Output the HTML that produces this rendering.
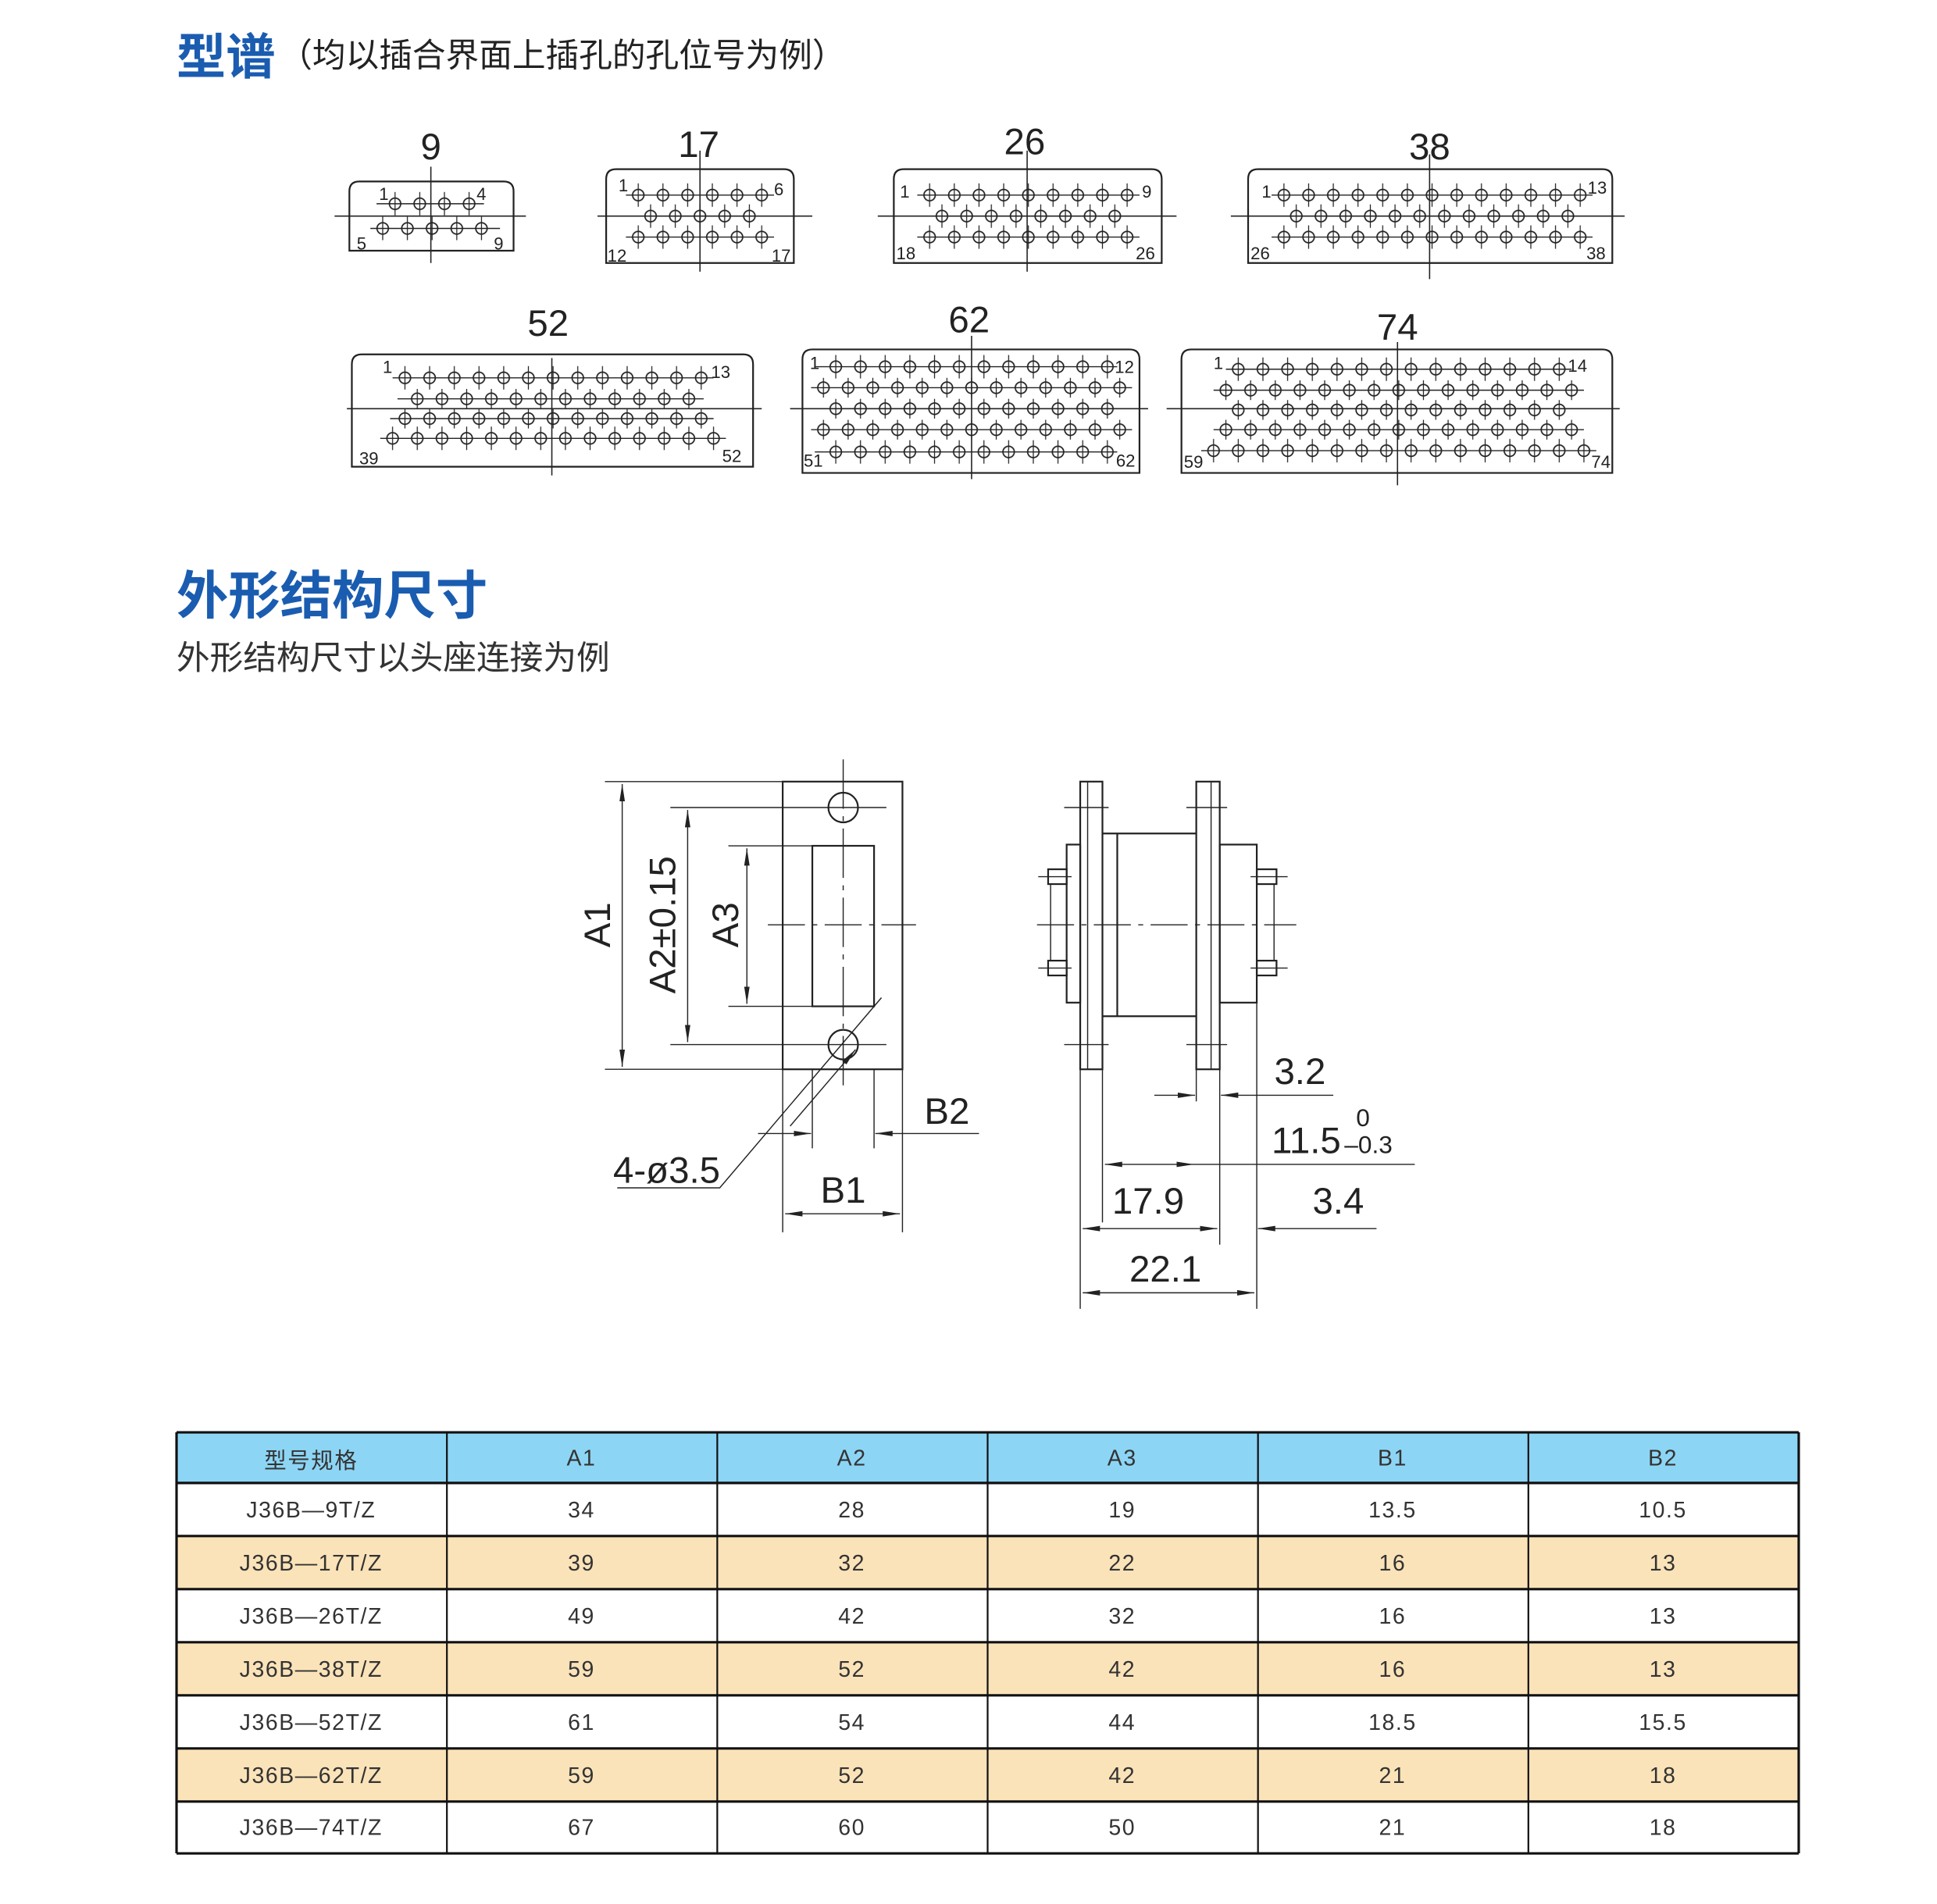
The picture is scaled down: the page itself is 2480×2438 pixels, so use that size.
<!DOCTYPE html>
<html><head><meta charset="utf-8"><style>
html,body{margin:0;padding:0;background:#fff;}
svg{display:block;}
text{font-family:"Liberation Sans","Noto Sans CJK SC",sans-serif;}
</style></head><body>
<svg width="2480" height="2438" viewBox="0 0 1569 1542" preserveAspectRatio="none" xmlns="http://www.w3.org/2000/svg">
<defs>
<pattern id="pin" patternUnits="userSpaceOnUse" x="-10" y="-10" width="20" height="20">
<circle cx="10" cy="10" r="4.6" fill="none" stroke="#222" stroke-width="1.1"/>
<line x1="10" y1="0.5" x2="10" y2="19.5" stroke="#222" stroke-width="0.8"/>
</pattern>
<marker id="ar" markerWidth="14" markerHeight="6" refX="14" refY="3" orient="auto" markerUnits="userSpaceOnUse"><path d="M0,0.8 L14,3 L0,5.2 Z" fill="#222"/></marker>
<marker id="al" markerWidth="14" markerHeight="6" refX="0" refY="3" orient="auto" markerUnits="userSpaceOnUse"><path d="M14,0.8 L0,3 L14,5.2 Z" fill="#222"/></marker>
</defs>

<text x="143" y="60" font-size="40" font-weight="bold" fill="#1a5cb0">型谱</text>
<text x="226" y="54" font-size="27" fill="#222">（均以插合界面上插孔的孔位号为例）</text>

<g fill="none" stroke="#222" stroke-width="1.4">
<path d="M283,203 L283,155 Q283,147 291,147 L408,147 Q416,147 416,155 L416,203 Z"/>
<path d="M491,213 L491,145 Q491,137 499,137 L635,137 Q643,137 643,145 L643,213 Z"/>
<path d="M724,213 L724,145 Q724,137 732,137 L933,137 Q941,137 941,145 L941,213 Z"/>
<path d="M1011,213 L1011,145 Q1011,137 1019,137 L1298,137 Q1306,137 1306,145 L1306,213 Z"/>
<path d="M285,378 L285,295 Q285,287 293,287 L602,287 Q610,287 610,295 L610,378 Z"/>
<path d="M650,383 L650,291 Q650,283 658,283 L915,283 Q923,283 923,291 L923,383 Z"/>
<path d="M957,383 L957,291 Q957,283 965,283 L1298,283 Q1306,283 1306,291 L1306,383 Z"/>
</g>
<g stroke="#222" stroke-width="1">
<line x1="271" y1="175" x2="426" y2="175"/><line x1="349" y1="135" x2="349" y2="213"/>
<line x1="484" y1="175" x2="658" y2="175"/><line x1="567" y1="122" x2="567" y2="220"/>
<line x1="711" y1="175" x2="953" y2="175"/><line x1="832" y1="122" x2="832" y2="220"/>
<line x1="997" y1="175" x2="1316" y2="175"/><line x1="1158" y1="125" x2="1158" y2="226"/>
<line x1="281" y1="331" x2="617" y2="331"/><line x1="447" y1="290" x2="447" y2="385"/>
<line x1="640" y1="331" x2="930" y2="331"/><line x1="787" y1="272" x2="787" y2="388"/>
<line x1="945" y1="331" x2="1312" y2="331"/><line x1="1132" y1="277" x2="1132" y2="393"/>
</g>
<g stroke="#222" stroke-width="0.9">
<line x1="305" y1="165" x2="392" y2="165"/><line x1="300" y1="185" x2="405" y2="185"/>
<line x1="507" y1="158" x2="627" y2="158"/><line x1="507" y1="192" x2="627" y2="192"/>
<line x1="743" y1="158" x2="923" y2="158"/><line x1="743" y1="192" x2="923" y2="192"/>
<line x1="1030" y1="158" x2="1290" y2="158"/><line x1="1030" y1="192" x2="1290" y2="192"/>
<line x1="318" y1="306" x2="578" y2="306"/><line x1="322" y1="323" x2="570" y2="323"/><line x1="316" y1="339" x2="578" y2="339"/><line x1="308" y1="355" x2="588" y2="355"/>
<line x1="660" y1="297" x2="905" y2="297"/><line x1="657" y1="314" x2="917" y2="314"/><line x1="657" y1="348" x2="917" y2="348"/><line x1="660" y1="366" x2="905" y2="366"/>
<line x1="993" y1="299" x2="1273" y2="299"/><line x1="983" y1="316" x2="1283" y2="316"/><line x1="983" y1="348" x2="1283" y2="348"/><line x1="973" y1="365" x2="1293" y2="365"/>
</g>
<g fill="url(#pin)">
<rect transform="translate(320,165)" x="-10" y="-10" width="80" height="20"/>
<rect transform="translate(310,185)" x="-10" y="-10" width="100" height="20"/>
<rect transform="translate(517,158)" x="-10" y="-10" width="120" height="20"/>
<rect transform="translate(527,175)" x="-10" y="-10" width="100" height="20"/>
<rect transform="translate(517,192)" x="-10" y="-10" width="120" height="20"/>
<rect transform="translate(753,158)" x="-10" y="-10" width="180" height="20"/>
<rect transform="translate(763,175)" x="-10" y="-10" width="160" height="20"/>
<rect transform="translate(753,192)" x="-10" y="-10" width="180" height="20"/>
<rect transform="translate(1040,158)" x="-10" y="-10" width="260" height="20"/>
<rect transform="translate(1050,175)" x="-10" y="-10" width="240" height="20"/>
<rect transform="translate(1040,192)" x="-10" y="-10" width="260" height="20"/>
<rect transform="translate(328,306)" x="-10" y="-10" width="260" height="20"/>
<rect transform="translate(338,323)" x="-10" y="-8" width="240" height="16"/>
<rect transform="translate(328,339)" x="-10" y="-8" width="260" height="16"/>
<rect transform="translate(318,355)" x="-10" y="-10" width="280" height="20"/>
<rect transform="translate(677,297)" x="-10" y="-10" width="240" height="20"/>
<rect transform="translate(667,314)" x="-10" y="-8" width="260" height="16"/>
<rect transform="translate(677,331)" x="-10" y="-8" width="240" height="16"/>
<rect transform="translate(667,348)" x="-10" y="-8" width="260" height="16"/>
<rect transform="translate(677,366)" x="-10" y="-10" width="240" height="20"/>
<rect transform="translate(1003,299)" x="-10" y="-10" width="280" height="20"/>
<rect transform="translate(993,316)" x="-10" y="-8" width="300" height="16"/>
<rect transform="translate(1003,332)" x="-10" y="-8" width="280" height="16"/>
<rect transform="translate(993,348)" x="-10" y="-8" width="300" height="16"/>
<rect transform="translate(983,365)" x="-10" y="-10" width="320" height="20"/>
</g>
<g font-size="30" fill="#222" text-anchor="middle">
<text x="349" y="129">9</text><text x="566" y="127">17</text><text x="830" y="125">26</text><text x="1158" y="129">38</text>
<text x="444" y="272">52</text><text x="785" y="269">62</text><text x="1132" y="275">74</text>
</g>
<g font-size="14" fill="#222">
<text x="307" y="162">1</text><text x="386" y="162">4</text><text x="289" y="202">5</text><text x="400" y="202">9</text>
<text x="501" y="155">1</text><text x="627" y="158">6</text><text x="492" y="212">12</text><text x="625" y="212">17</text>
<text x="729" y="160">1</text><text x="925" y="160">9</text><text x="726" y="210">18</text><text x="920" y="210">26</text>
<text x="1022" y="160">1</text><text x="1286" y="157">13</text><text x="1013" y="210">26</text><text x="1285" y="210">38</text>
<text x="310" y="302">1</text><text x="576" y="306">13</text><text x="291" y="376">39</text><text x="585" y="374">52</text>
<text x="656" y="299">1</text><text x="903" y="302">12</text><text x="651" y="378">51</text><text x="904" y="378">62</text>
<text x="983" y="299">1</text><text x="1270" y="301">14</text><text x="959" y="379">59</text><text x="1289" y="379">74</text>
</g>

<text x="143" y="497" font-size="42" font-weight="bold" fill="#1a5cb0">外形结构尺寸</text>
<text x="143" y="542" font-size="27" fill="#333">外形结构尺寸以头座连接为例</text>

<g fill="none" stroke="#222" stroke-width="1.4">
<rect x="634" y="633" width="97" height="233"/>
<rect x="658" y="685" width="50" height="130"/>
<ellipse cx="683" cy="654" rx="12" ry="12"/>
<ellipse cx="683" cy="846" rx="12" ry="12"/>
</g>
<g stroke="#222" stroke-width="0.9" fill="none">
<line x1="683" y1="615" x2="683" y2="880" stroke-dasharray="40,6,4,6"/>
<line x1="622" y1="749" x2="742" y2="749" stroke-dasharray="30,6,4,6"/>
<line x1="490" y1="633" x2="634" y2="633"/><line x1="490" y1="866" x2="634" y2="866"/>
<line x1="543" y1="654" x2="718" y2="654"/><line x1="543" y1="846" x2="718" y2="846"/>
<line x1="590" y1="685" x2="658" y2="685"/><line x1="590" y1="815" x2="658" y2="815"/>
<line x1="504" y1="635" x2="504" y2="864" marker-start="url(#al)" marker-end="url(#ar)"/>
<line x1="557" y1="656" x2="557" y2="844" marker-start="url(#al)" marker-end="url(#ar)"/>
<line x1="605" y1="687" x2="605" y2="813" marker-start="url(#al)" marker-end="url(#ar)"/>
<line x1="634" y1="866" x2="634" y2="998"/><line x1="731" y1="866" x2="731" y2="998"/>
<line x1="658" y1="866" x2="658" y2="930"/><line x1="708" y1="866" x2="708" y2="930"/>
<line x1="636" y1="983" x2="729" y2="983" marker-start="url(#al)" marker-end="url(#ar)"/>
<line x1="614" y1="918" x2="657" y2="918" marker-end="url(#ar)"/>
<line x1="793" y1="918" x2="709" y2="918" marker-end="url(#ar)"/>
<polyline points="714,808 583,962 500,962"/>
<line x1="640" y1="912" x2="693" y2="850" marker-end="url(#ar)"/>
</g>
<g font-size="30" fill="#222">
<text transform="translate(494,749) rotate(-90)" text-anchor="middle">A1</text>
<text transform="translate(547,749) rotate(-90)" text-anchor="middle">A2±0.15</text>
<text transform="translate(598,749) rotate(-90)" text-anchor="middle">A3</text>
<text x="683" y="974" text-anchor="middle">B1</text>
<text x="767" y="910" text-anchor="middle">B2</text>
<text x="540" y="958" text-anchor="middle">4-ø3.5</text>
</g>

<g fill="none" stroke="#222" stroke-width="1.4">
<rect x="875" y="633" width="18" height="233"/>
<rect x="969" y="633" width="19" height="233"/>
<polyline points="893,675 969,675"/>
<polyline points="893,823 969,823"/>
<line x1="905" y1="675" x2="905" y2="823"/>
<rect x="864" y="684" width="11" height="128"/>
<rect x="988" y="684" width="30" height="128"/>
<rect x="849" y="704" width="15" height="12"/>
<rect x="849" y="778" width="15" height="12"/>
<rect x="1018" y="704" width="16" height="12"/>
<rect x="1018" y="778" width="16" height="12"/>
</g>
<g stroke="#222" stroke-width="0.9" fill="none">
<line x1="881" y1="633" x2="881" y2="866"/><line x1="981" y1="633" x2="981" y2="866"/>
<line x1="851" y1="716" x2="851" y2="778"/><line x1="1032" y1="716" x2="1032" y2="778"/>
<line x1="840" y1="749" x2="1050" y2="749" stroke-dasharray="30,6,4,6"/>
<line x1="862" y1="654" x2="898" y2="654"/><line x1="961" y1="654" x2="994" y2="654"/>
<line x1="862" y1="846" x2="898" y2="846"/><line x1="961" y1="846" x2="994" y2="846"/>
<line x1="841" y1="710" x2="868" y2="710"/><line x1="841" y1="784" x2="868" y2="784"/>
<line x1="1013" y1="710" x2="1043" y2="710"/><line x1="1013" y1="784" x2="1043" y2="784"/>
<line x1="875" y1="866" x2="875" y2="1060"/>
<line x1="893" y1="866" x2="893" y2="990"/>
<line x1="969" y1="866" x2="969" y2="892"/>
<line x1="988" y1="866" x2="988" y2="1008"/>
<line x1="1018" y1="812" x2="1018" y2="1060"/>
<line x1="935" y1="887" x2="968" y2="887" marker-end="url(#ar)"/>
<line x1="1080" y1="887" x2="989" y2="887" marker-end="url(#ar)"/>
<line x1="895" y1="943" x2="967" y2="943" marker-start="url(#al)" marker-end="url(#ar)"/>
<line x1="967" y1="943" x2="1146" y2="943"/>
<line x1="877" y1="995" x2="986" y2="995" marker-start="url(#al)" marker-end="url(#ar)"/>
<line x1="1115" y1="995" x2="1019" y2="995" marker-end="url(#ar)"/>
<line x1="877" y1="1047" x2="1016" y2="1047" marker-start="url(#al)" marker-end="url(#ar)"/>
</g>
<g font-size="30" fill="#222">
<text x="1053" y="878" text-anchor="middle">3.2</text>
<text x="1030" y="934">11.5</text>
<text x="1104" y="912" font-size="20" text-anchor="middle">0</text>
<text x="1089" y="934" font-size="20">–0.3</text>
<text x="930" y="983" text-anchor="middle">17.9</text>
<text x="1084" y="983" text-anchor="middle">3.4</text>
<text x="944" y="1038" text-anchor="middle">22.1</text>
</g>

<rect x="143" y="1160" width="1314" height="41" fill="#8dd5f5"/>
<rect x="143" y="1244" width="1314" height="43" fill="#fbe3b9"/>
<rect x="143" y="1330" width="1314" height="43" fill="#fbe3b9"/>
<rect x="143" y="1416" width="1314" height="43" fill="#fbe3b9"/>
<g stroke="#111" stroke-width="2">
<line x1="143" y1="1160" x2="1457" y2="1160"/>
<line x1="143" y1="1201" x2="1457" y2="1201"/>
<line x1="143" y1="1244" x2="1457" y2="1244"/>
<line x1="143" y1="1287" x2="1457" y2="1287"/>
<line x1="143" y1="1330" x2="1457" y2="1330"/>
<line x1="143" y1="1373" x2="1457" y2="1373"/>
<line x1="143" y1="1416" x2="1457" y2="1416"/>
<line x1="143" y1="1459" x2="1457" y2="1459"/>
<line x1="143" y1="1501" x2="1457" y2="1501"/>
<line x1="143" y1="1160" x2="143" y2="1501"/>
<line x1="362" y1="1160" x2="362" y2="1501" stroke-width="1.4"/>
<line x1="581" y1="1160" x2="581" y2="1501" stroke-width="1.4"/>
<line x1="800" y1="1160" x2="800" y2="1501" stroke-width="1.4"/>
<line x1="1019" y1="1160" x2="1019" y2="1501" stroke-width="1.4"/>
<line x1="1238" y1="1160" x2="1238" y2="1501" stroke-width="1.4"/>
<line x1="1457" y1="1160" x2="1457" y2="1501"/>
</g>
<g font-size="18" fill="#333" text-anchor="middle" letter-spacing="1">
<text x="252" y="1189">型号规格</text>
<text x="471" y="1187">A1</text><text x="690" y="1187">A2</text><text x="909" y="1187">A3</text><text x="1128" y="1187">B1</text><text x="1347" y="1187">B2</text>
<text x="252" y="1229">J36B—9T/Z</text><text x="471" y="1229">34</text><text x="690" y="1229">28</text><text x="909" y="1229">19</text><text x="1128" y="1229">13.5</text><text x="1347" y="1229">10.5</text>
<text x="252" y="1272">J36B—17T/Z</text><text x="471" y="1272">39</text><text x="690" y="1272">32</text><text x="909" y="1272">22</text><text x="1128" y="1272">16</text><text x="1347" y="1272">13</text>
<text x="252" y="1315">J36B—26T/Z</text><text x="471" y="1315">49</text><text x="690" y="1315">42</text><text x="909" y="1315">32</text><text x="1128" y="1315">16</text><text x="1347" y="1315">13</text>
<text x="252" y="1358">J36B—38T/Z</text><text x="471" y="1358">59</text><text x="690" y="1358">52</text><text x="909" y="1358">42</text><text x="1128" y="1358">16</text><text x="1347" y="1358">13</text>
<text x="252" y="1401">J36B—52T/Z</text><text x="471" y="1401">61</text><text x="690" y="1401">54</text><text x="909" y="1401">44</text><text x="1128" y="1401">18.5</text><text x="1347" y="1401">15.5</text>
<text x="252" y="1444">J36B—62T/Z</text><text x="471" y="1444">59</text><text x="690" y="1444">52</text><text x="909" y="1444">42</text><text x="1128" y="1444">21</text><text x="1347" y="1444">18</text>
<text x="252" y="1486">J36B—74T/Z</text><text x="471" y="1486">67</text><text x="690" y="1486">60</text><text x="909" y="1486">50</text><text x="1128" y="1486">21</text><text x="1347" y="1486">18</text>
</g>
</svg>
</body></html>
